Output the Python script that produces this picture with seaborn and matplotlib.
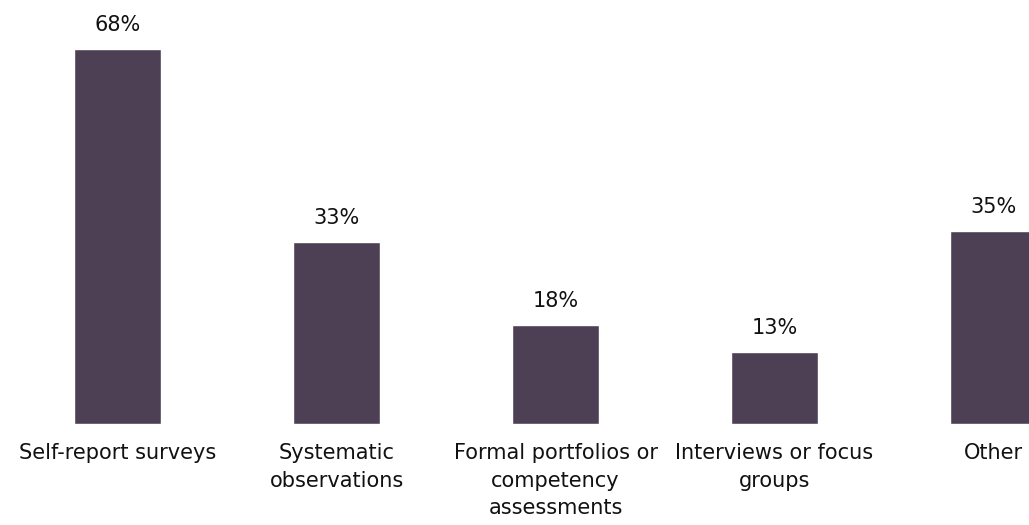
import matplotlib
matplotlib.use("Agg")
import matplotlib.pyplot as plt
import seaborn as sns
import pandas as pd

# chart data
categories = ["Self-report surveys", "Systematic\nobservations",
              "Formal portfolios or\ncompetency\nassessments",
              "Interviews or focus\ngroups", "Other"]
values = [68, 33, 18, 13, 35]

df = pd.DataFrame({"method": categories, "pct": values})

sns.set_style("white")
plt.rcParams["font.family"] = ["DejaVu Sans"]

fig = plt.figure(figsize=(10.29, 5.25), dpi=100)
ax = fig.add_axes([0, 101 / 525, 1, 413.3 / 525])

sns.barplot(data=df, x="method", y="pct", color="#4E4054", width=0.4,
            saturation=1, ax=ax)

ax.set_xlim(-0.5365, 4.162)
ax.set_ylim(0, 75)
for c in ax.containers:
    ax.bar_label(c, labels=[f"{v}%" for v in values], padding=10,
                 fontsize=15, color="#111111")

ax.set_xlabel("")
ax.set_ylabel("")
ax.set_yticks([])
ax.tick_params(axis="x", length=0, pad=14, labelsize=15, labelcolor="#111111")
for lbl in ax.get_xticklabels():
    lbl.set_linespacing(1.45)
sns.despine(ax=ax, left=True, bottom=True, top=True, right=True)

fig.savefig("out.png", dpi=100)
